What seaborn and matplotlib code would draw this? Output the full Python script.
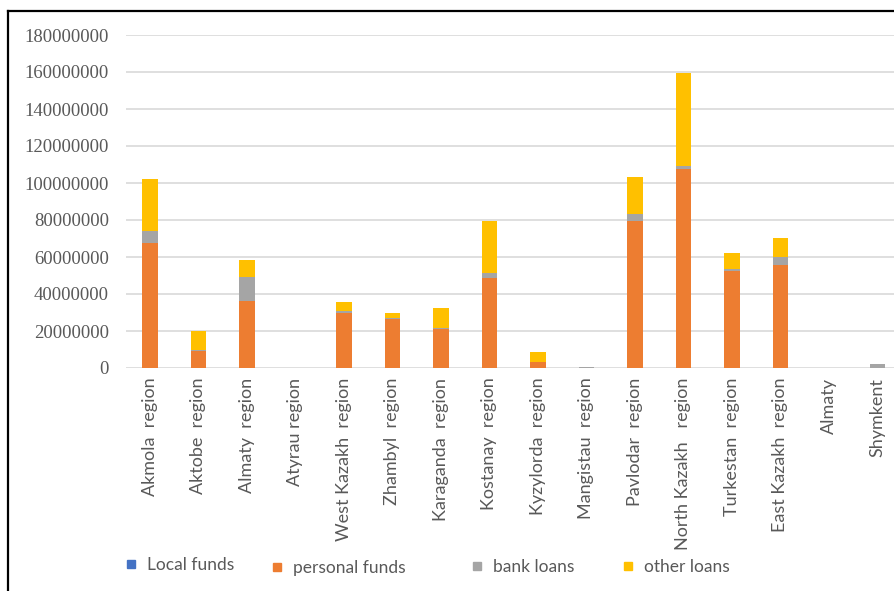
import matplotlib
matplotlib.use("Agg")
import matplotlib.pyplot as plt
from matplotlib.lines import Line2D
import seaborn as sns
import pandas as pd
import numpy as np

regions = ["Akmola  region", "Aktobe  region", "Almaty  region", "Atyrau region",
           "West Kazakh  region", "Zhambyl  region", "Karaganda  region", "Kostanay  region",
           "Kyzylorda  region", "Mangistau  region", "Pavlodar  region", "North Kazakh   region",
           "Turkestan  region", "East Kazakh  region", "Almaty", "Shymkent"]
local_funds    = [0, 0, 0, 0, 0, 0, 0, 0, 0, 0, 0, 0, 0, 0, 0, 0]
personal_funds = [67.5e6, 9.0e6, 36.0e6, 0, 29.7e6, 26.5e6, 20.9e6, 48.8e6,
                  3.4e6, 0, 79.3e6, 107.6e6, 52.6e6, 55.7e6, 0, 0]
bank_loans     = [6.5e6, 0.6e6, 13.0e6, 0, 1.3e6, 0.6e6, 0.8e6, 2.7e6,
                  0, 0.8e6, 3.9e6, 1.8e6, 0.9e6, 4.3e6, 0, 2.0e6]
other_loans    = [28.0e6, 10.2e6, 9.4e6, 0, 4.5e6, 2.8e6, 10.6e6, 28.0e6,
                  5.4e6, 0, 20.0e6, 49.9e6, 8.4e6, 10.4e6, 0, 0]
series_names = ["Local funds", "personal funds", "bank loans", "other loans"]
colors = ["#4472C4", "#ED7D31", "#A5A5A5", "#FFC000"]

df = pd.DataFrame({"region": regions, "local": local_funds, "personal": personal_funds,
                   "bank": bank_loans, "other": other_loans})
df["c1"] = df["local"]
df["c2"] = df["c1"] + df["personal"]
df["c3"] = df["c2"] + df["bank"]
df["c4"] = df["c3"] + df["other"]

W, H = 895, 591
fig = plt.figure(figsize=(W / 100, H / 100), dpi=100)
ax = fig.add_axes([125.75 / W, 1 - 368 / H, 776 / W, 333 / H])

for col, c in zip(["c4", "c3", "c2", "c1"], [colors[3], colors[2], colors[1], colors[0]]):
    sns.barplot(data=df, x="region", y=col, color=c, width=0.31, ax=ax,
                saturation=1, errorbar=None, zorder=3, linewidth=0)

ax.set_ylim(0, 180e6)
ax.set_xlim(-0.5, len(regions) - 0.5)
ax.set_yticks(np.arange(0, 180e6 + 1, 20e6))
ax.set_yticklabels([f"{int(v)}" for v in np.arange(0, 180e6 + 1, 20e6)],
                   family="Liberation Serif", fontsize=13.5, color="#595959")
ax.set_xticks(range(len(regions)))
ax.set_xticklabels(regions, rotation=90, family="Lato", fontsize=13, color="#595959")
ax.tick_params(axis="y", length=0, pad=12)
ax.tick_params(axis="x", length=0, pad=7)
ax.set_xlabel("")
ax.set_ylabel("")
for s in ax.spines.values():
    s.set_visible(False)
ax.grid(axis="y", color="#D9D9D9", linewidth=1.2, zorder=0)
ax.grid(axis="x", visible=False)
ax.set_axisbelow(True)

# legend entries
legend_pos = [(124, 565), (270, 568), (470, 567), (621, 567)]
for name, c, (lx, ly) in zip(series_names, colors, legend_pos):
    h = Line2D([], [], marker="s", linestyle="none", markersize=6, color=c)
    lg = fig.legend(handles=[h], labels=[name], loc="center left",
                    bbox_to_anchor=(lx / W, 1 - ly / H), frameon=False,
                    borderpad=0, borderaxespad=0, handlelength=0.8, handletextpad=0.55,
                    prop={"family": "Lato", "size": 12.5})
    for t in lg.get_texts():
        t.set_color("#595959")

# outer border (top and left)
fig.add_artist(Line2D([8 / W, 1], [1 - 11 / H, 1 - 11 / H], color="black", linewidth=1.6,
                      transform=fig.transFigure))
fig.add_artist(Line2D([8 / W, 8 / W], [1 - 11 / H, 0], color="black", linewidth=1.6,
                      transform=fig.transFigure))

fig.savefig("out.png", dpi=100)
